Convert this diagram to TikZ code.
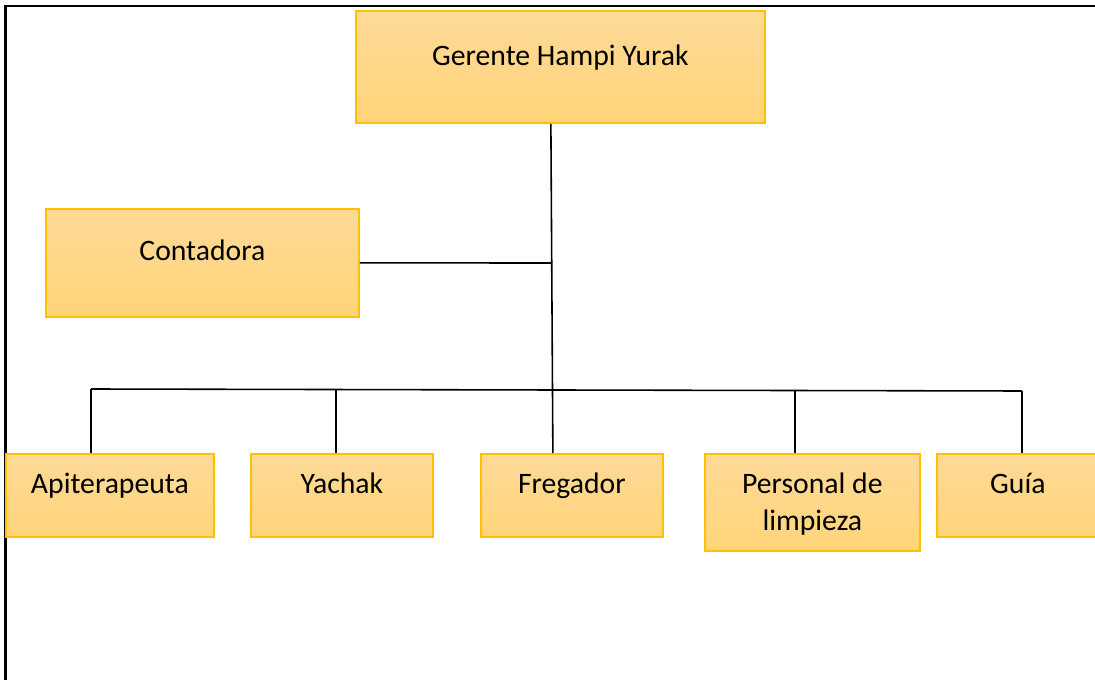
\documentclass[tikz,border=0pt]{standalone}
\usepackage{fontspec}
\setmainfont{Carlito}
\definecolor{borde}{RGB}{255,192,0}
\definecolor{clarito}{RGB}{255,218,152}
\definecolor{oscuro}{RGB}{255,212,121}

\begin{document}
\begin{tikzpicture}[
    cargo/.style={draw=borde, line width=1pt, top color=clarito, bottom color=oscuro,
      anchor=north west, inner sep=0pt, align=center,
      font=\fontsize{16.9}{21}\selectfont},
    bajo/.style={text height=0.80cm, text depth=0.86cm},
    linea/.style={line width=0.9pt}]
      \clip (0, 0) rectangle (21.9, -13.6);
      \draw[line width=1.4pt] (0.11, -0.12) rectangle (23, -15);
      \node[cargo, minimum width=8.18cm, text height=1.10cm, text depth=1.14cm] (gerente) at (7.10, -0.20) {Gerente Hampi Yurak};
      \node[cargo, minimum width=6.26cm, text height=1.04cm, text depth=1.12cm] (contadora) at (0.90, -4.16) {Contadora};
      \node[cargo, bajo, minimum width=4.16cm] (api) at (0.10, -9.06) {Apiterapeuta};
      \node[cargo, bajo, minimum width=3.64cm] (yachak) at (5.00, -9.06) {Yachak};
      \node[cargo, bajo, minimum width=3.64cm] (fregador) at (9.60, -9.06) {Fregador};
      \node[cargo, minimum width=4.30cm, text height=1.54cm, text depth=0.40cm] (personal) at (14.08, -9.06) {Personal de\\limpieza};
      \node[cargo, bajo, minimum width=3.24cm] (guia) at (18.72, -9.06) {Guía};
      \coordinate (cj) at (11.02, -5.26);
      \coordinate (busw) at (1.82, -7.78);
      \coordinate (buse) at (20.44, -7.82);
      \draw[linea] ([xshift=-0.19cm]gerente.south) -- ([xshift=-0.38cm]fregador.north);
      \draw[linea] (contadora.east) -- (cj);
      \draw[linea] (busw) -- (buse);
      \draw[linea] (busw) -- (busw |- api.north);
      \draw[linea] ([xshift=-0.12cm]yachak.north) -- ([xshift=-0.12cm]yachak.north |- busw);
      \draw[linea] ([xshift=-0.35cm]personal.north) -- ([xshift=-0.35cm]personal.north |- buse);
      \draw[linea] (buse) -- (buse |- guia.north);
    \end{tikzpicture}
\end{document}
